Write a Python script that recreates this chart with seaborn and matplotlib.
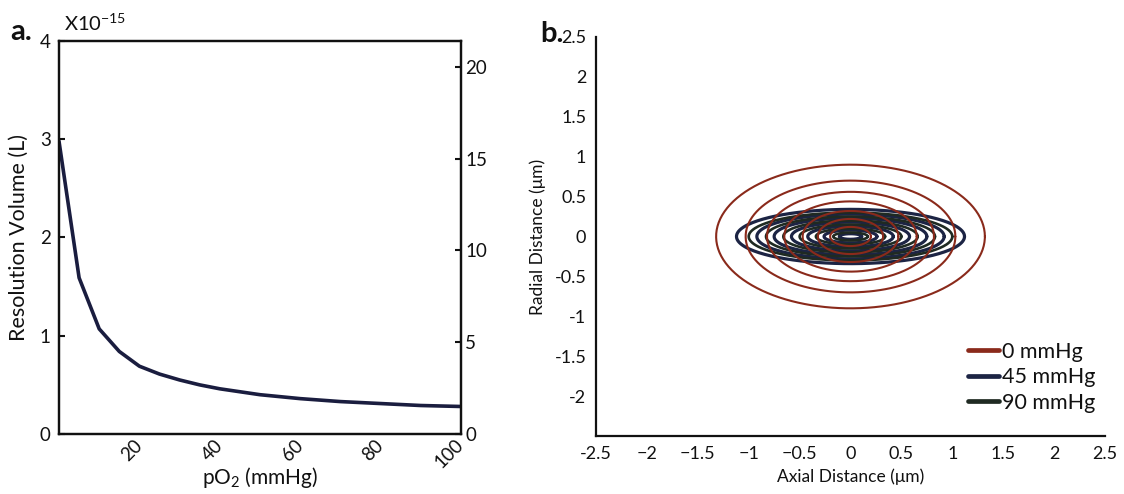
import numpy as np
import pandas as pd
import matplotlib
matplotlib.use("Agg")
import matplotlib.pyplot as plt
from matplotlib.lines import Line2D
import seaborn as sns

# ---------------- Panel a data ----------------
po2 = [0, 5, 10, 15, 20, 25, 30, 35, 40, 45, 50, 55, 60, 65, 70, 75, 80, 85, 90, 95, 100]
res_volume = [2.98, 1.59, 1.07, 0.84, 0.69, 0.61, 0.55, 0.50, 0.46, 0.43, 0.40,
              0.38, 0.36, 0.345, 0.33, 0.32, 0.31, 0.30, 0.29, 0.285, 0.28]
left_ticks = [0, 1, 2, 3, 4]
right_ticks = [0, 5, 10, 15, 20]
x_ticks_a = [20, 40, 60, 80, 100]

# ---------------- Panel b data (contour semi-axes, um) ----------------
series_labels = ["0 mmHg", "45 mmHg", "90 mmHg"]
axial_0 = [1.32, 1.03, 0.82, 0.65, 0.47, 0.32, 0.20]
radial_0 = [0.90, 0.70, 0.56, 0.44, 0.32, 0.22, 0.12]
axial_45 = [1.12, 0.92, 0.75, 0.58, 0.42, 0.26, 0.11]
radial_45 = [0.34, 0.28, 0.23, 0.18, 0.13, 0.08, 0.035]
axial_90 = [1.00, 0.83, 0.66, 0.50, 0.34, 0.17]
radial_90 = [0.30, 0.25, 0.20, 0.15, 0.10, 0.05]
b_ticks = [-2.5, -2, -1.5, -1, -0.5, 0, 0.5, 1, 1.5, 2, 2.5]
x_ticklabels_b = ["-2.5", "\u22122", "\u22121.5", "\u22121", "\u22120.5", "0", "0.5", "1", "1.5", "2", "2.5"]
y_ticklabels_b = ["", "-2", "-1.5", "-1", "-0.5", "0", "0.5", "1", "1.5", "2", "2.5"]

colors = {"0 mmHg": "#8a2a1b", "45 mmHg": "#1c2444", "90 mmHg": "#1f2a22"}
ink = "#111111"

sns.set_theme(style="white")
plt.rcParams['font.family'] = ['Lato', 'DejaVu Sans']
plt.rcParams['mathtext.fontset'] = 'custom'
plt.rcParams['mathtext.rm'] = 'Lato'
plt.rcParams['mathtext.it'] = 'Lato:italic'
plt.rcParams['mathtext.bf'] = 'Lato:bold'
plt.rcParams['axes.unicode_minus'] = False
plt.rcParams['text.color'] = ink
plt.rcParams['axes.labelcolor'] = ink

fig = plt.figure(figsize=(11.24, 4.94), dpi=100)

# ---------------- Panel a ----------------
axA = fig.add_axes([59 / 1124, 1 - 434 / 494, 402 / 1124, 393 / 494])
dfa = pd.DataFrame({"pO2": po2, "vol": res_volume})
sns.lineplot(data=dfa, x="pO2", y="vol", ax=axA, color="#1a1d3f", linewidth=2.6)
axA.set_xlim(0, 100)
axA.set_ylim(0, 4)
axA.set_xticks(x_ticks_a)
axA.set_xticklabels([str(v) for v in x_ticks_a], rotation=45, ha="right",
                    va="center", rotation_mode="anchor")
axA.set_yticks(left_ticks)
axA.set_yticklabels([str(v) for v in left_ticks])
axA.tick_params(axis="both", direction="in", length=4, width=1.5, labelsize=13.5,
                colors=ink, pad=6)
axA.tick_params(axis="x", pad=6)
axA.set_xlabel("pO$_\\mathregular{2}$ (mmHg)", fontsize=15, labelpad=-5)
axA.set_ylabel("Resolution Volume (L)", fontsize=15.5, labelpad=8)
for sp in axA.spines.values():
    sp.set_linewidth(1.6)
    sp.set_color(ink)
    sp.set_visible(True)

axA2 = axA.twinx()
axA2.set_ylim(0, 21.4)
axA2.set_yticks(right_ticks)
axA2.set_yticklabels([str(v) for v in right_ticks])
axA2.tick_params(axis="y", direction="in", length=4, width=1.5, labelsize=13.5,
                 colors=ink, pad=3)
for sp in axA2.spines.values():
    sp.set_linewidth(1.6)
    sp.set_color(ink)

fig.text(64 / 1124, 1 - 31 / 494, "X10$^{\\mathregular{-15}}$", fontsize=14.5,
         va="baseline", ha="left")
fig.text(10 / 1124, 1 - 40 / 494, "a.", fontsize=21, fontweight="bold",
         va="baseline", ha="left")

# ---------------- Panel b ----------------
axB = fig.add_axes([596 / 1124, 1 - 436 / 494, 509 / 1124, 399 / 494])
t = np.linspace(0, 2 * np.pi, 240)
rows = []
for label, ax_list, rad_list in [("0 mmHg", axial_0, radial_0),
                                 ("45 mmHg", axial_45, radial_45),
                                 ("90 mmHg", axial_90, radial_90)]:
    for i, (a, b) in enumerate(zip(ax_list, rad_list)):
        for k, tt in enumerate(t):
            rows.append({"series": label, "ring": i, "k": k,
                         "x": a * np.cos(tt), "y": b * np.sin(tt)})
dfb = pd.DataFrame(rows)

lw = {"0 mmHg": 1.5, "45 mmHg": 2.3, "90 mmHg": 1.9}
for label, z in [("45 mmHg", 2), ("90 mmHg", 3), ("0 mmHg", 4)]:
    sub = dfb[dfb["series"] == label]
    sns.lineplot(data=sub, x="x", y="y", units="ring", estimator=None, sort=False,
                 color=colors[label], linewidth=lw[label], ax=axB, zorder=z,
                 legend=False)

axB.set_xlim(-2.5, 2.5)
axB.set_ylim(-2.5, 2.5)
axB.set_xticks(b_ticks)
axB.set_xticklabels(x_ticklabels_b)
axB.set_yticks(b_ticks)
axB.set_yticklabels(y_ticklabels_b)
axB.get_yticklabels()[-1].set_fontsize(10.5)
axB.tick_params(axis="both", direction="in", length=4, width=1.5, labelsize=13,
                colors=ink, pad=7)
axB.set_xlabel("Axial Distance (\u03bcm)", fontsize=12.5, labelpad=5)
axB.set_ylabel("Radial Distance (\u03bcm)", fontsize=12.5, labelpad=6)
for name, sp in axB.spines.items():
    if name in ("top", "right"):
        sp.set_visible(False)
    else:
        sp.set_linewidth(1.6)
        sp.set_color(ink)

handles = [Line2D([0], [0], color=colors[s], linewidth=3.4) for s in series_labels]
leg = axB.legend(handles, series_labels, loc="upper left", frameon=False,
                 bbox_to_anchor=(968 / 1124, 1 - 342 / 494), bbox_transform=fig.transFigure,
                 borderpad=0, borderaxespad=0, handlelength=1.45, handletextpad=0.15,
                 labelspacing=0.25, fontsize=15.5)

fig.text(540 / 1124, 1 - 42 / 494, "b.", fontsize=21, fontweight="bold",
         va="baseline", ha="left")

fig.savefig("out.png", dpi=100)
